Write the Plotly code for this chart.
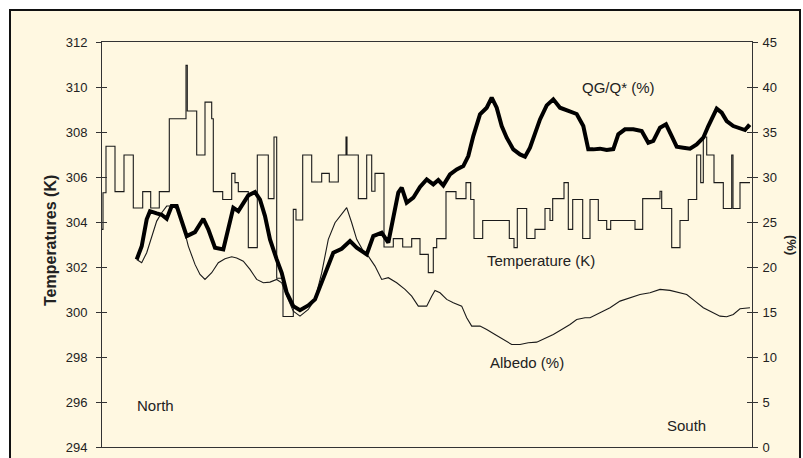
import plotly.graph_objects as go

# ---------------- data (distance along transect, arbitrary units) ----------------
temp_dist = [0, 1, 4, 13, 22, 31.3, 40.7, 48.7, 57.3, 67.3, 84, 85.3, 94.7, 103, 109.7, 111.3,
             120.7, 129.7, 133, 136.3, 146.3, 155.3, 166.3, 172, 174.7, 181, 191.3, 194, 200.7,
             209.7, 219.7, 227.3, 236.3, 244, 245, 256.3, 264.7, 269.7, 273, 282, 291.3, 300.7,
             309.7, 318, 326.3, 331.3, 334.7, 344, 354, 364, 368.7, 372, 380.7, 407.3, 412, 415.3,
             424.7, 433, 443, 448, 450.7, 462, 466.3, 470.7, 480.7, 488, 496.3, 504.7, 508.7, 533,
             540.7, 558, 559.7, 569.7, 578, 586.3, 594.7, 598.7, 601.3, 604.7, 612, 621.3, 629.7,
             631, 638, 648]
temp_K = [303.67, 305.3, 307.37, 305.35, 306.98, 304.62, 305.35, 304.62, 305.35, 308.59, 310.96,
          308.93, 306.98, 309.33, 308.59, 305.35, 305.0, 306.16, 305.75, 305.35, 302.86, 306.98,
          305.04, 307.78, 301.5, 299.8, 304.56, 304.09, 306.98, 305.78, 306.16, 305.78, 306.98,
          307.78, 306.98, 305.04, 306.98, 305.37, 306.16, 302.89, 303.26, 302.89, 303.26, 302.56,
          301.75, 302.86, 303.26, 305.35, 305.04, 305.75, 305.0, 303.27, 304.07, 303.27, 302.86,
          304.6, 303.27, 303.67, 304.6, 304.07, 305.04, 305.75, 303.67, 305.0, 303.27, 305.0,
          304.07, 303.67, 304.07, 303.67, 305.04, 305.37, 304.6, 302.86, 304.07, 305.0, 306.98,
          305.75, 307.78, 306.98, 305.75, 304.6, 306.98, 304.6, 305.75, 305.75]

qg_dist = [34.7, 39.7, 44.7, 48, 54.7, 59.7, 64.7, 69.7, 74.7, 79.7, 84.7, 93, 101.3, 106.3, 113,
           121.3, 126.3, 131.3, 136.3, 141.3, 146.3, 153, 158, 163, 168, 174.7, 179.7, 184.7,
           191.3, 198, 206.3, 213, 218, 224.7, 231.3, 239.7, 248, 254.7, 259.7, 264.7, 271.3,
           279.7, 286.3, 291.3, 296.3, 299.7, 304.7, 311.3, 318, 324.7, 331.3, 336.3, 341.3, 348,
           354.7, 361.3, 366.3, 371.3, 378, 384.7, 389.7, 394.7, 399.7, 404.7, 411.3, 418, 423,
           428, 433, 438, 444.7, 451.3, 458, 468, 474.7, 481.3, 486.3, 491.3, 498, 504.7, 511.3,
           516.3, 523, 531.3, 539.7, 546.3, 551.3, 558, 564, 569.7, 574.7, 581.3, 588, 594.7,
           601.3, 606.3, 611.3, 614.7, 619.7, 624.7, 631.3, 638, 643, 646.3, 648]
qg_pct = [20.84, 22.3, 25.3, 26.2, 25.96, 25.8, 25.36, 26.77, 26.77, 24.92, 23.43, 23.88, 25.36,
          24.18, 22.14, 21.95, 24.18, 26.59, 26.21, 27.14, 27.96, 28.33, 27.5, 25.66, 23.07,
          20.84, 19.36, 17.14, 15.65, 15.2, 15.73, 16.4, 17.87, 19.92, 21.59, 22.03, 22.88,
          22.14, 21.77, 21.4, 23.43, 23.81, 22.7, 25.66, 28.26, 28.81, 27.14, 27.7, 28.9, 29.73,
          29.18, 29.66, 29.07, 30.29, 30.85, 31.21, 32.33, 34.55, 36.96, 37.7, 38.82, 37.7,
          35.66, 34.37, 33.07, 32.51, 32.26, 33.26, 34.93, 36.4, 37.96, 38.63, 37.7, 37.33, 37.0,
          35.66, 33.07, 33.07, 33.15, 33.0, 33.1, 34.74, 35.3, 35.3, 35.1, 33.8, 34.0, 35.48,
          35.85, 34.55, 33.37, 33.26, 33.15, 33.63, 34.37, 35.66, 36.96, 37.6, 37.15, 36.22,
          35.66, 35.37, 35.22, 35.66, 35.5]

alb_dist = [34.7, 39.7, 44.7, 49.7, 54.7, 59.7, 64.7, 69.7, 76.3, 81.3, 86.3, 93, 98, 103, 109.7,
            116.3, 123, 129.7, 134.7, 141.3, 148, 154.7, 161.3, 168, 174.7, 179.7, 184.7, 191.3,
            198, 206.3, 213, 219.7, 226.3, 233, 239.7, 244.7, 249.7, 254.7, 261.3, 266.3, 273,
            279.7, 286.3, 294.7, 303, 309.7, 316.3, 324.7, 329.7, 333, 338, 344.7, 351.3, 359.7,
            364.7, 369.7, 378, 384.7, 393, 401.3, 409.7, 418, 426.3, 434.7, 443, 451.3, 459.7,
            468, 474.7, 483, 488, 498, 508, 518, 528, 538, 548, 558, 568, 578, 584.7, 593, 601.3,
            609.7, 618, 624.7, 631.3, 638, 644.7, 648]
alb_pct = [20.84, 20.47, 21.59, 23.43, 25.1, 26.03, 26.77, 26.77, 26.4, 24.55, 22.32, 20.29,
           19.18, 18.62, 19.36, 20.47, 20.92, 21.14, 20.99, 20.65, 19.73, 18.62, 18.25, 18.32,
           18.62, 18.25, 16.76, 15.1, 14.54, 15.28, 16.4, 19.36, 23.07, 24.92, 25.85, 26.59,
           24.92, 23.07, 21.77, 21.21, 20.1, 18.62, 18.81, 18.25, 17.51, 16.76, 15.65, 15.65,
           16.76, 17.4, 17.14, 16.4, 16.03, 15.65, 14.36, 13.43, 13.43, 13.06, 12.5, 11.95,
           11.39, 11.39, 11.58, 11.65, 12.03, 12.5, 13.06, 13.62, 14.17, 14.36, 14.36, 14.92,
           15.47, 16.21, 16.58, 16.95, 17.14, 17.51, 17.4, 17.14, 16.95, 16.21, 15.47, 14.99,
           14.54, 14.47, 14.73, 15.36, 15.47, 15.47]

left_ticks = [294, 296, 298, 300, 302, 304, 306, 308, 310, 312]
right_ticks = [0, 5, 10, 15, 20, 25, 30, 35, 40, 45]

# ---------------- styling ----------------
FONT = "Liberation Sans, Arial, sans-serif"
CREAM = "#FFF8E1"
INK = "#1a1a1a"
AX = "#333333"

W, H = 803, 458
L, R, T, B = 102, 51, 42, 11
pw, ph = W - L - R, H - T - B


def px(xp):
    return (xp - L) / pw


def py(yp):
    return (H - B - yp) / ph


fig = go.Figure()

fig.add_trace(go.Scatter(x=temp_dist, y=temp_K, mode="lines", line=dict(color=INK, width=1.1, shape="hv"),
                         yaxis="y", hoverinfo="skip", showlegend=False))
fig.add_trace(go.Scatter(x=alb_dist, y=alb_pct, mode="lines", line=dict(color=INK, width=1.1),
                         yaxis="y2", hoverinfo="skip", showlegend=False))
fig.add_trace(go.Scatter(x=qg_dist, y=qg_pct, mode="lines", line=dict(color="#000000", width=4),
                         yaxis="y2", hoverinfo="skip", showlegend=False))
# empty traces so the tick-crossing helper axes are rendered
fig.add_trace(go.Scatter(x=[None], y=[None], yaxis="y3", showlegend=False, hoverinfo="skip"))
fig.add_trace(go.Scatter(x=[None], y=[None], yaxis="y4", showlegend=False, hoverinfo="skip"))

tickfont = dict(family=FONT, size=13, color="#222222")

fig.update_layout(
    width=W, height=H,
    margin=dict(l=L, r=R, t=T, b=B, pad=0, autoexpand=False),
    paper_bgcolor="white",
    plot_bgcolor="rgba(0,0,0,0)",
    showlegend=False,
    xaxis=dict(range=[0, 650], showgrid=False, zeroline=False, showticklabels=False, ticks="",
               showline=True, linecolor=AX, linewidth=1, mirror=True, fixedrange=True,
               automargin=False),
    yaxis=dict(range=[294, 312], tickvals=left_ticks, ticks="outside", ticklen=5, tickcolor=AX,
               showgrid=False, zeroline=False, showline=True, linecolor=AX, linewidth=1,
               tickfont=tickfont, ticklabelstandoff=6, automargin=False),
    yaxis2=dict(range=[0, 45], tickvals=right_ticks, overlaying="y", side="right", ticks="outside",
                ticklen=5, tickcolor=AX, showgrid=False, zeroline=False, showline=True,
                linecolor=AX, linewidth=1, tickfont=tickfont, ticklabelstandoff=2,
                automargin=False),
    yaxis3=dict(range=[294, 312], tickvals=left_ticks, overlaying="y", side="left", ticks="inside",
                ticklen=5, tickcolor=AX, showgrid=False, zeroline=False, showline=False,
                showticklabels=False, automargin=False),
    yaxis4=dict(range=[0, 45], tickvals=right_ticks, overlaying="y", side="right", ticks="inside",
                ticklen=5, tickcolor=AX, showgrid=False, zeroline=False, showline=False,
                showticklabels=False, automargin=False),
)

# outer chart frame (cream area with dark border)
fig.add_shape(type="rect", xref="paper", yref="paper",
              x0=px(10), x1=px(800), y0=py(475), y1=py(10),
              fillcolor=CREAM, line=dict(color="#111111", width=2), layer="below")


def label(text, xc, yc, size=15, bold=False, angle=0):
    t = f"<b>{text}</b>" if bold else text
    fig.add_annotation(text=t, xref="paper", yref="paper", x=px(xc), y=py(yc),
                       xanchor="center", yanchor="middle", showarrow=False, textangle=angle,
                       font=dict(family=FONT, size=size, color="#222222"))


label("Temperatures (K)", 50, 241, size=16, bold=True, angle=-90)
label("(%)", 792, 245, size=13, bold=True, angle=90)
label("QG/Q* (%)", 618, 87)
label("Temperature (K)", 541, 260)
label("Albedo (%)", 527, 362)
label("North", 155, 405)
label("South", 686, 425)

fig.write_html("out.html", config={"displayModeBar": False, "staticPlot": True},
               post_script="document.body.style.margin='0';document.body.style.overflow='hidden';")
